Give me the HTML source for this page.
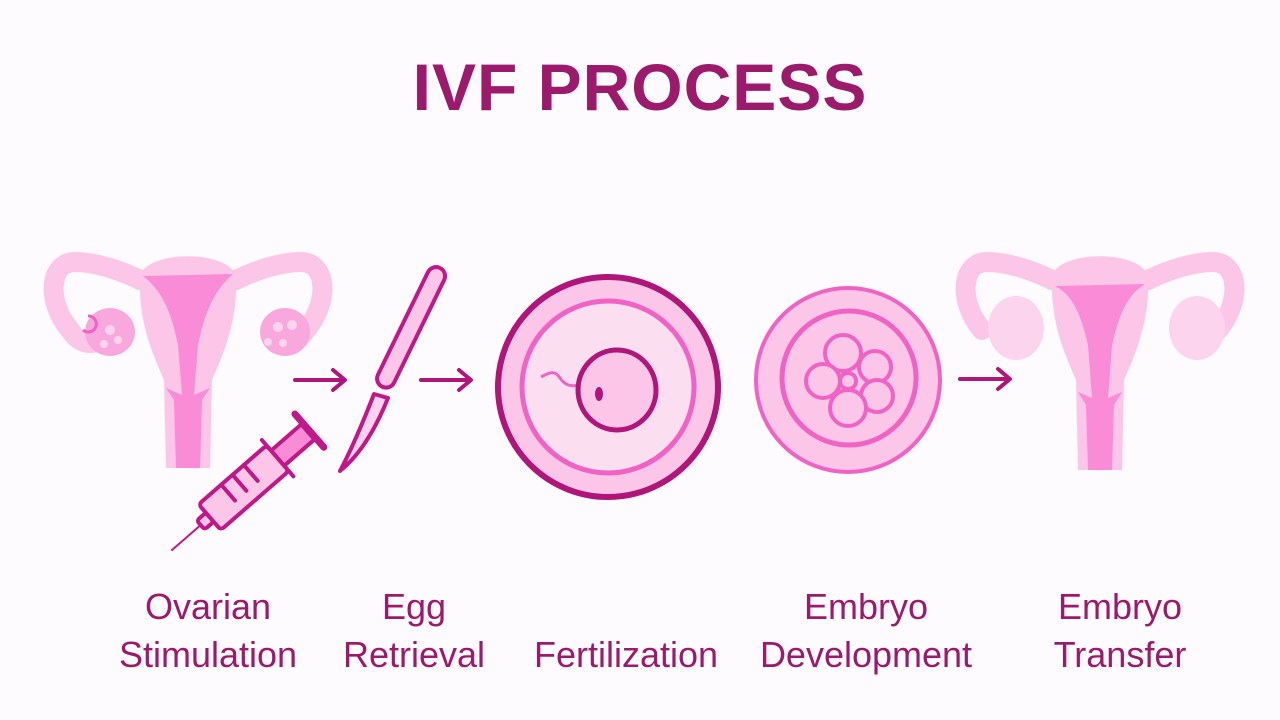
<!DOCTYPE html>
<html><head><meta charset="utf-8"><style>
html,body{margin:0;padding:0;background:#fdfbfd;}
svg{display:block}
text{font-family:"Liberation Sans",sans-serif;fill:#9c1a6c}
</style></head><body>
<svg width="1280" height="720" viewBox="0 0 1280 720">
<rect width="1280" height="720" fill="#fdfbfd"/>
<text x="640" y="110" text-anchor="middle" font-size="66" font-weight="bold" letter-spacing="1" fill="#a3146f">IVF PROCESS</text>

<!-- left uterus -->
<g>
<path d="M140,280 C120,270 95,262 75,262 C50,262 45,300 70,330 C80,345 92,345 100,340" fill="none" stroke="#fcc6e8" stroke-width="20" stroke-linecap="round"/>
<path d="M236,280 C256,270 281,262 301,262 C326,262 331,300 306,330 C296,345 284,345 276,340" fill="none" stroke="#fcc6e8" stroke-width="20" stroke-linecap="round"/>
<path d="M140,275 C150,250 226,250 236,275 C238,320 225,350 212,380 L210,468 L166,468 L164,380 C151,350 138,320 140,275Z" fill="#fcc6e8"/>
<path d="M143,276 L233,274 C215,290 205,310 198,345 L194,395 L210,388 L202,400 L200,468 L176,468 L174,400 L166,388 L182,395 L178,345 C171,310 161,290 143,276Z" fill="#f98bd7"/>
<ellipse cx="110" cy="332" rx="25" ry="24" fill="#f8a8dc"/>
<ellipse cx="285" cy="332" rx="25" ry="24" fill="#f8a8dc"/>
<circle cx="110" cy="330" r="5" fill="#fcd4ee"/><circle cx="118" cy="340" r="4" fill="#fcd4ee"/><circle cx="104" cy="344" r="4" fill="#fcd4ee"/>
<circle cx="278" cy="327" r="5" fill="#fcd4ee"/><circle cx="292" cy="325" r="5" fill="#fcd4ee"/><circle cx="283" cy="343" r="4" fill="#fcd4ee"/><circle cx="268" cy="342" r="4" fill="#fcd4ee"/>
<path d="M88,316 A8,8 0 1 1 83,330" fill="none" stroke="#f063c4" stroke-width="3"/>
</g>

<!-- arrows -->
<g stroke="#b0167a" stroke-width="4" fill="none" stroke-linecap="round" stroke-linejoin="round">
<path d="M295,380 H343 M333,370 L345,380 L333,390"/>
<path d="M421,380 H469 M459,370 L471,380 L459,390"/>
<path d="M960,379 H1008 M998,369 L1010,379 L998,389"/>
</g>

<!-- syringe -->
<g transform="translate(172,550) rotate(-41)" stroke="#c01888" stroke-width="4" stroke-linejoin="round" stroke-linecap="round">
<line x1="0" y1="0" x2="40" y2="0" stroke-width="2"/>
<rect x="38" y="-6" width="12" height="12" rx="3" fill="#fcc6e8"/>
<rect x="50" y="-17" width="90" height="34" rx="4" fill="#fcc6e8"/>
<line x1="80" y1="-17" x2="80" y2="4"/><line x1="95" y1="-17" x2="95" y2="4"/><line x1="110" y1="-17" x2="110" y2="4"/>
<line x1="140" y1="-24" x2="140" y2="24"/>
<rect x="140" y="-10" width="40" height="20" fill="#f98bd7"/>
<line x1="182" y1="-22" x2="182" y2="22" stroke-width="7"/>
</g>

<!-- scalpel -->
<g stroke="#c01888" stroke-width="4" stroke-linejoin="round" fill="#fcc6e8">
<path d="M374,394 C362,425 350,452 340,471 C360,455 376,428 388,398Z" fill="#fcd4ee"/>
<rect x="-9" y="0" width="18" height="132" rx="9" transform="translate(440,268) rotate(26)"/>
</g>

<!-- fertilization -->
<circle cx="608" cy="387" r="110" fill="#fcc6e8" stroke="#b0167a" stroke-width="6"/>
<circle cx="608" cy="387" r="86" fill="#fbdff1" stroke="#f063c4" stroke-width="5"/>
<path d="M541,377 C550,372 555,370 560,378 C565,385 570,387 580,385" fill="none" stroke="#f063c4" stroke-width="3"/>
<ellipse cx="617" cy="390" rx="39" ry="40" fill="#fcc6e8" stroke="#b0167a" stroke-width="5"/>
<ellipse cx="599" cy="394" rx="4" ry="7" fill="#b0167a"/>

<!-- embryo -->
<circle cx="848" cy="380" r="92" fill="#fcc6e8" stroke="#f063c4" stroke-width="4"/>
<circle cx="849" cy="378" r="67" fill="#fcc6e8" stroke="#f063c4" stroke-width="5"/>
<g fill="#fcc6e8" stroke="#f063c4" stroke-width="4">
<circle cx="843" cy="353" r="18"/>
<circle cx="875" cy="367" r="16"/>
<circle cx="877" cy="396" r="16"/>
<circle cx="848" cy="408" r="18"/>
<circle cx="823" cy="381" r="17"/>
<circle cx="848" cy="381" r="8"/>
</g>

<!-- right uterus -->
<g transform="translate(912,0)">
<path d="M140,280 C120,270 95,262 75,262 C50,262 45,300 70,330" fill="none" stroke="#fcc6e8" stroke-width="20" stroke-linecap="round"/>
<path d="M236,280 C256,270 281,262 301,262 C326,262 331,300 306,330" fill="none" stroke="#fcc6e8" stroke-width="20" stroke-linecap="round"/>
<path d="M140,275 C150,250 226,250 236,275 C238,320 225,350 212,380 L210,470 L166,470 L164,380 C151,350 138,320 140,275Z" fill="#fcc6e8"/>
<path d="M143,286 L233,284 C215,295 207,315 200,345 L196,398 L210,392 L202,405 L200,470 L176,470 L174,405 L166,392 L180,398 L176,345 C169,315 161,295 143,286Z" fill="#f98bd7"/>
<ellipse cx="104" cy="328" rx="28" ry="32" fill="#fcd4ee"/>
<ellipse cx="285" cy="328" rx="28" ry="32" fill="#fcd4ee"/>
</g>

<!-- labels -->
<g font-size="36" text-anchor="middle">
<text x="208" y="619">Ovarian</text><text x="208" y="667">Stimulation</text>
<text x="414" y="619">Egg</text><text x="414" y="667">Retrieval</text>
<text x="626" y="667">Fertilization</text>
<text x="866" y="619">Embryo</text><text x="866" y="667">Development</text>
<text x="1120" y="619">Embryo</text><text x="1120" y="667">Transfer</text>
</g>
</svg>
</body></html>
